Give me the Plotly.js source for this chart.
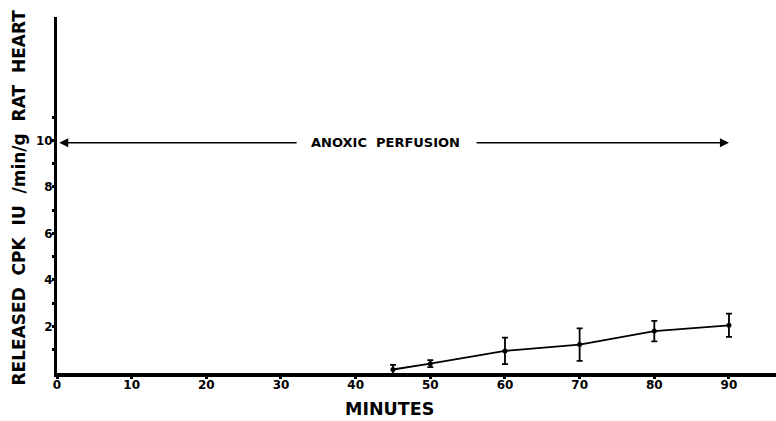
<!DOCTYPE html>
<html>
<head>
<meta charset="utf-8">
<script src="https://cdn.plot.ly/plotly-3.0.1.min.js"></script>
<style>html,body{margin:0;padding:0;background:#fff;}#chart{width:776px;height:421px;}</style>
</head>
<body>
<div id="chart"></div>
<script>
// Data
const minutes = [45, 50, 60, 70, 80, 90];
const releasedCPK = [0.15, 0.4, 0.95, 1.22, 1.8, 2.05];
const cpkError = [0.2, 0.15, 0.57, 0.7, 0.44, 0.5];

const xTickVals = [0, 10, 20, 30, 40, 50, 60, 70, 80, 90];
const xTickText = ['0', '10', '20', '30', '40', '50', '60', '70', '80', '90'];
const yTickVals = [1, 2, 3, 4, 5, 6, 7, 8, 9, 10, 11];
const yTickText = ['', '2', '', '4', '', '6', '', '8', '', '10', ''];

const perfusionStart = 0;
const perfusionEnd = 90;
const perfusionLevel = 9.9;
const perfusionLabel = 'ANOXIC  PERFUSION';

const xTitle = 'MINUTES';
const yTitle = 'RELEASED  CPK  IU  /min/g  RAT  HEART';

const FONT = 'DejaVu Sans, Liberation Sans, sans-serif';

const trace = {
  x: minutes,
  y: releasedCPK,
  type: 'scatter',
  mode: 'lines+markers',
  line: {color: '#000', width: 1.8},
  marker: {color: '#000', size: 5},
  error_y: {type: 'data', array: cpkError, visible: true, color: '#000', thickness: 1.8, width: 3},
  showlegend: false,
  cliponaxis: false
};

const layout = {
  width: 776,
  height: 421,
  margin: {l: 57, r: 0, t: 17, b: 48},
  paper_bgcolor: '#fff',
  plot_bgcolor: '#fff',
  font: {family: FONT, color: '#000', size: 12, weight: 700},
  xaxis: {
    range: [0, 96.3],
    showgrid: false,
    zeroline: false,
    showline: true,
    linecolor: '#000',
    linewidth: 3.5,
    ticks: 'outside',
    ticklen: 2,
    tickwidth: 3,
    tickcolor: '#000',
    tickvals: xTickVals,
    ticktext: xTickText,
    ticklabelstandoff: -4,
    tickfont: {family: FONT, size: 12, weight: 700, color: '#000'},
    automargin: false
  },
  yaxis: {
    range: [0, 15.3],
    showgrid: false,
    zeroline: false,
    showline: true,
    linecolor: '#000',
    linewidth: 3,
    ticks: 'outside',
    ticklen: 2,
    tickwidth: 3,
    tickcolor: '#000',
    tickvals: yTickVals,
    ticktext: yTickText,
    ticklabelstandoff: -3,
    tickfont: {family: FONT, size: 12, weight: 700, color: '#000'},
    automargin: false
  },
  annotations: [
    {
      xref: 'x', yref: 'y', axref: 'x', ayref: 'y',
      x: perfusionStart + 0.3, y: perfusionLevel, ax: 32.3, ay: perfusionLevel,
      text: '', showarrow: true, arrowhead: 2, arrowsize: 1.2, arrowwidth: 1.5, arrowcolor: '#000'
    },
    {
      xref: 'x', yref: 'y', axref: 'x', ayref: 'y',
      x: perfusionEnd, y: perfusionLevel, ax: 56, ay: perfusionLevel,
      text: '', showarrow: true, arrowhead: 2, arrowsize: 1.2, arrowwidth: 1.5, arrowcolor: '#000'
    },
    {
      xref: 'x', yref: 'y',
      x: 44, y: perfusionLevel,
      text: perfusionLabel, showarrow: false,
      xanchor: 'center', yanchor: 'middle',
      font: {family: FONT, size: 13, weight: 700, color: '#000'}
    },
    {
      xref: 'paper', yref: 'paper',
      x: (389 - 57) / 719, y: 0, yshift: -36,
      text: xTitle, showarrow: false,
      xanchor: 'center', yanchor: 'middle',
      font: {family: FONT, size: 17.5, weight: 700, color: '#000'}
    },
    {
      xref: 'paper', yref: 'paper',
      x: 0, xshift: -39, y: (373 - 197.5) / 356,
      text: yTitle, showarrow: false, textangle: -90,
      xanchor: 'center', yanchor: 'middle',
      font: {family: FONT, size: 17, weight: 700, color: '#000'}
    }
  ]
};

Plotly.newPlot('chart', [trace], layout, {displayModeBar: false, staticPlot: true});
</script>
</body>
</html>
